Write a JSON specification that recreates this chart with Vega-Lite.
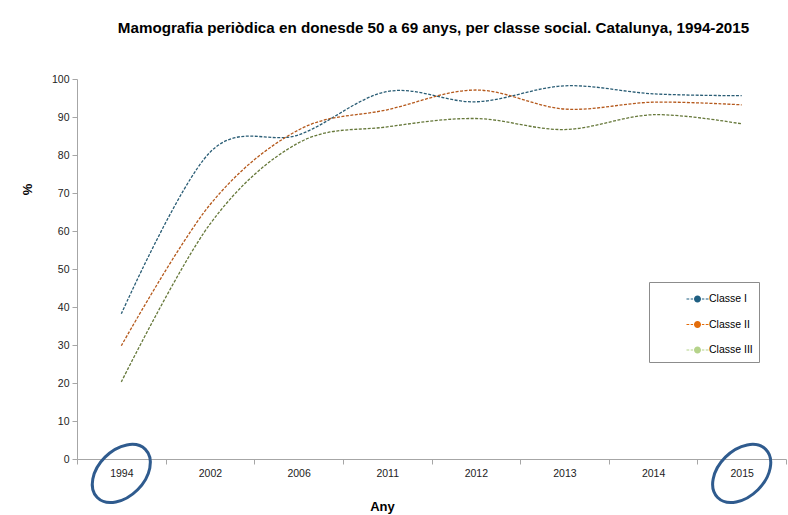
{
  "$schema": "https://vega.github.io/schema/vega-lite/v6.json",
  "width": 709,
  "height": 380,
  "autosize": {"type": "none"},
  "padding": {"left": 77, "top": 79, "right": 2, "bottom": 56},
  "background": "white",
  "config": {
    "view": {"stroke": null},
    "font": "Liberation Sans"
  },
  "title": {
    "text": "Mamografia periòdica en donesde 50 a 69 anys, per classe social. Catalunya, 1994-2015",
    "font": "Liberation Sans",
    "fontSize": 15.2,
    "fontWeight": "bold",
    "color": "#000000",
    "anchor": "middle",
    "baseline": "alphabetic",
    "dx": 2,
    "offset": 26
  },
  "datasets": {
    "mamo": [
      {"any": "1994", "classe": "Classe I", "pct": 38.2},
      {"any": "2002", "classe": "Classe I", "pct": 80.7},
      {"any": "2006", "classe": "Classe I", "pct": 85.3},
      {"any": "2011", "classe": "Classe I", "pct": 96.7},
      {"any": "2012", "classe": "Classe I", "pct": 94.0},
      {"any": "2013", "classe": "Classe I", "pct": 98.2},
      {"any": "2014", "classe": "Classe I", "pct": 96.1},
      {"any": "2015", "classe": "Classe I", "pct": 95.6},
      {"any": "1994", "classe": "Classe II", "pct": 29.8},
      {"any": "2002", "classe": "Classe II", "pct": 66.9},
      {"any": "2006", "classe": "Classe II", "pct": 86.6},
      {"any": "2011", "classe": "Classe II", "pct": 91.9},
      {"any": "2012", "classe": "Classe II", "pct": 97.1},
      {"any": "2013", "classe": "Classe II", "pct": 92.1},
      {"any": "2014", "classe": "Classe II", "pct": 93.9},
      {"any": "2015", "classe": "Classe II", "pct": 93.2},
      {"any": "1994", "classe": "Classe III", "pct": 20.3},
      {"any": "2002", "classe": "Classe III", "pct": 61.8},
      {"any": "2006", "classe": "Classe III", "pct": 83.2},
      {"any": "2011", "classe": "Classe III", "pct": 87.4},
      {"any": "2012", "classe": "Classe III", "pct": 89.6},
      {"any": "2013", "classe": "Classe III", "pct": 86.7},
      {"any": "2014", "classe": "Classe III", "pct": 90.6},
      {"any": "2015", "classe": "Classe III", "pct": 88.2}
    ],
    "highlight": [
      {"any": "1994", "pct": -3.8},
      {"any": "2015", "pct": -3.8}
    ]
  },
  "encoding": {
    "x": {
      "field": "any",
      "type": "ordinal",
      "sort": ["1994", "2002", "2006", "2011", "2012", "2013", "2014", "2015"],
      "scale": {"type": "band", "domain": ["1994", "2002", "2006", "2011", "2012", "2013", "2014", "2015"], "paddingInner": 0, "paddingOuter": 0},
      "axis": {
        "title": "Any",
        "titleFont": "Liberation Sans",
        "titleFontSize": 13,
        "titleFontWeight": "bold",
        "titleColor": "#000000",
        "titleX": 305,
        "titleY": 51,
        "titleBaseline": "alphabetic",
        "titleAlign": "center",
        "labelAngle": 0,
        "labelFont": "Liberation Sans",
        "labelFontSize": 10.5,
        "labelColor": "#222222",
        "labelPadding": 4,
        "tickBand": "extent",
        "tickSize": 5,
        "tickColor": "#A6A6A6",
        "domainColor": "#A6A6A6",
        "grid": false
      }
    },
    "y": {
      "field": "pct",
      "type": "quantitative",
      "scale": {"domain": [0, 100], "nice": false, "zero": true},
      "axis": {
        "title": "%",
        "titleFont": "Liberation Sans",
        "titleFontSize": 13,
        "titleFontWeight": "bold",
        "titleColor": "#000000",
        "titleAngle": 270,
        "titleX": -50,
        "titleY": 110,
        "titleAlign": "center",
        "titleBaseline": "middle",
        "values": [0, 10, 20, 30, 40, 50, 60, 70, 80, 90, 100],
        "labelFont": "Liberation Sans",
        "labelFontSize": 10.5,
        "labelColor": "#222222",
        "labelPadding": 3,
        "tickSize": 5,
        "tickColor": "#A6A6A6",
        "domainColor": "#A6A6A6",
        "grid": false
      }
    }
  },
  "layer": [
    {
      "data": {"name": "mamo"},
      "mark": {"type": "point", "filled": true, "opacity": 0, "size": 30},
      "encoding": {
        "color": {
          "field": "classe",
          "type": "nominal",
          "scale": {"domain": ["Classe I", "Classe II", "Classe III"], "range": ["#1F5F82", "#E36C0A", "#B5D38A"]},
          "legend": {
            "title": null,
            "orient": "none",
            "legendX": 572,
            "legendY": 203,
            "padding": 6,
            "strokeColor": "#8C8C8C",
            "fillColor": "#FFFFFF",
            "symbolType": "M-1,-0.055h0.25v0.11h-0.25Z M-0.62,-0.055h0.22v0.11h-0.22Z M0.4,-0.055h0.22v0.11h-0.22Z M0.75,-0.055h0.25v0.11h-0.25Z M0.32,0A0.32,0.32,0,1,1,-0.32,0A0.32,0.32,0,1,1,0.32,0Z",
            "symbolSize": 484,
            "symbolOpacity": 1,
            "symbolStrokeWidth": 0,
            "symbolOffset": 31.5,
            "labelOffset": 0.5,
            "labelFont": "Liberation Sans",
            "labelFontSize": 10.5,
            "labelColor": "#000000",
            "rowPadding": 8.5
          }
        }
      }
    },
    {
      "data": {"name": "mamo"},
      "mark": {"type": "line", "interpolate": "cardinal", "tension": 0, "strokeDash": [3, 1.5], "strokeWidth": 1.3},
      "encoding": {
        "color": {
          "field": "classe",
          "type": "nominal",
          "scale": {"domain": ["Classe I", "Classe II", "Classe III"], "range": ["#2A5D75", "#B5591C", "#66783A"]},
          "legend": null
        }
      }
    },
    {
      "data": {"name": "highlight"},
      "mark": {
        "type": "point",
        "filled": false,
        "clip": false,
        "shape": "M0.668,-0.668A0.944,0.639,-45,0,1,-0.668,0.668A0.944,0.639,-45,0,1,0.668,-0.668Z",
        "size": 5184,
        "stroke": "#2F5B8E",
        "strokeWidth": 3,
        "opacity": 1
      }
    }
  ],
  "resolve": {"scale": {"color": "independent"}}
}
